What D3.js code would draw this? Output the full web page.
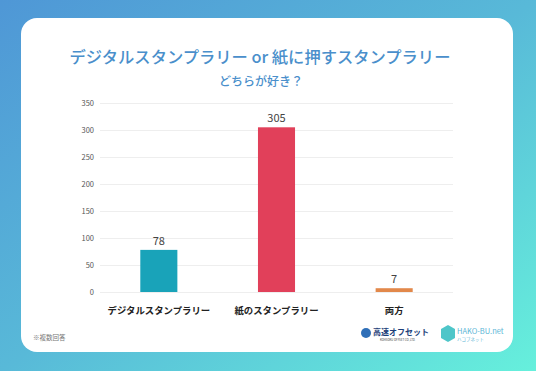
<!DOCTYPE html>
<html><head><meta charset="utf-8">
<script src="https://cdn.jsdelivr.net/npm/d3@7"></script>
<style>html,body{margin:0;padding:0;overflow:hidden;}svg{display:block;}</style>
</head><body><svg id="c" width="536" height="371"></svg>
<script>
const categories = ["デジタルスタンプラリー", "紙のスタンプラリー", "両方"];
const values = [78, 305, 7];
const barColors = ["#19a3b9", "#e1405a", "#e2884a"];
const yTicks = [0, 50, 100, 150, 200, 250, 300, 350];
const titleText = "デジタルスタンプラリー or 紙に押すスタンプラリー";
const subtitleText = "どちらが好き？";
const noteText = "※複数回答";

const svg = d3.select("#c");
const font = "'Noto Sans CJK JP','Noto Sans',sans-serif";
const defs = svg.append("defs");
const g = defs.append("linearGradient").attr("id","bg").attr("x1","0").attr("y1","0").attr("x2","1").attr("y2","1");
g.append("stop").attr("offset","0").attr("stop-color","#4f97d6");
g.append("stop").attr("offset","0.5").attr("stop-color","#58b9d8");
g.append("stop").attr("offset","1").attr("stop-color","#66f0dc");
svg.append("rect").attr("width",536).attr("height",371).attr("fill","url(#bg)");
svg.append("rect").attr("x",21).attr("y",18).attr("width",492).attr("height",334).attr("rx",16).attr("fill","#fff");

svg.append("text").attr("x",260).attr("y",63).attr("text-anchor","middle")
  .attr("font-family",font).attr("font-size",16.3).attr("font-weight",500).attr("fill","#4a8fcb").text(titleText);
svg.append("text").attr("x",261).attr("y",86).attr("text-anchor","middle")
  .attr("font-family",font).attr("font-size",12).attr("font-weight",500).attr("fill","#4a8fcb").text(subtitleText);

const x = d3.scaleBand().domain(categories).range([100,453]).paddingInner(0.685).paddingOuter(0.3425);
const y = d3.scaleLinear().domain([0,350]).range([292,103]);

const ya = svg.append("g").attr("transform","translate(100,0)")
  .call(d3.axisLeft(y).tickValues(yTicks).tickSize(-353).tickPadding(6));
ya.select(".domain").remove();
ya.selectAll(".tick line").attr("stroke","#eeeeee").attr("stroke-width",1);
ya.selectAll(".tick text").attr("font-family",font).attr("font-size",7.5).attr("fill","#555");

svg.append("g").selectAll("rect").data(values).join("rect")
  .attr("x",(d,i)=>x(categories[i])).attr("width",x.bandwidth())
  .attr("y",d=>y(d)).attr("height",d=>y(0)-y(d)).attr("fill",(d,i)=>barColors[i]);

svg.append("g").selectAll("text").data(values).join("text")
  .attr("x",(d,i)=>x(categories[i])+x.bandwidth()/2).attr("y",d=>y(d)-5)
  .attr("text-anchor","middle").attr("font-family",font).attr("font-size",11).attr("fill","#444").text(d=>d);

const xa = svg.append("g").attr("transform","translate(0,292)")
  .call(d3.axisBottom(x).tickSize(0).tickPadding(15));
xa.select(".domain").remove();
xa.selectAll(".tick text").attr("font-family",font).attr("font-size",9.4).attr("font-weight",700).attr("fill","#222");

svg.append("text").attr("x",33).attr("y",340).attr("font-family",font).attr("font-size",6.5).attr("fill","#777").text(noteText);

// logos
svg.append("circle").attr("cx",366).attr("cy",333).attr("r",5).attr("fill","#2f6fb8");
svg.append("text").attr("x",373).attr("y",335).attr("font-family",font).attr("font-size",8).attr("font-weight",700).attr("fill","#1d3f7a").text("高速オフセット");
svg.append("text").attr("x",380).attr("y",341).attr("font-family",font).attr("font-size",2.8).attr("fill","#333").text("KOHSOKU OFFSET CO.,LTD.");
svg.append("path").attr("d","M448,325 L455,329 L455,338 L448,342 L441,338 L441,329 Z").attr("fill","#4ec6c9");
svg.append("text").attr("x",457).attr("y",334).attr("font-family",font).attr("font-size",7.5).attr("fill","#5bb6d6").text("HAKO-BU.net");
svg.append("text").attr("x",457).attr("y",341).attr("font-family",font).attr("font-size",4.5).attr("fill","#5bb6d6").text("ハコブネット");
</script></body></html>
